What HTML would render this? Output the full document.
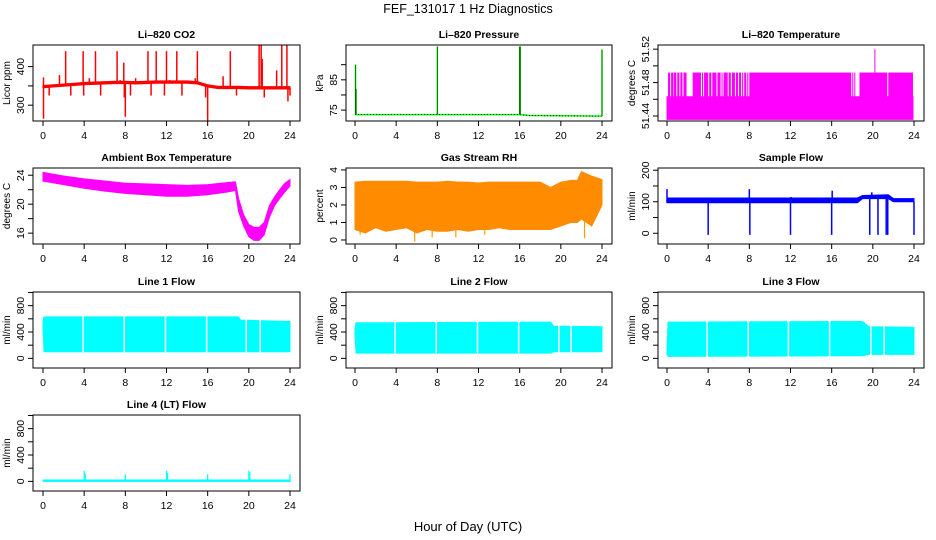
<!DOCTYPE html>
<html><head><meta charset="utf-8"><style>
html,body{margin:0;padding:0;background:#fff;}
svg{display:block;font-family:"Liberation Sans",sans-serif;}
</style></head><body>
<svg id="c" width="936" height="540" viewBox="0 0 936 540" xmlns="http://www.w3.org/2000/svg">
<text x="468" y="13" text-anchor="middle" font-size="12.5">FEF_131017  1 Hz Diagnostics</text>
<text x="468" y="531" text-anchor="middle" font-size="13">Hour of Day (UTC)</text>
</svg>
<script>
// ---- data ----
const xTicks = [0,4,8,12,16,20,24];
const co2T = [0,1,2,3,4,5,6,7,8,9,10,11,12,13,14,15,16,17,18,19,20,21,22,23,24];
const co2Base = [348,350,352,354,356,357,358,359,359,358,359,360,360,360,360,358,350,346,346,346,345,345,345,345,345];
const co2Spikes = [[0.05,265],[0.05,372],[0.6,325],[1.6,378],[2.2,440],[2.7,325],[3.9,440],[3.95,325],[4.5,370],[5.1,440],[5.6,325],[7.2,440],[7.5,365],[7.85,410],[7.9,320],[8.0,270],[8.5,325],[9.0,370],[10.2,440],[10.5,325],[11.0,440],[11.8,325],[12.0,440],[12.3,365],[13.0,440],[13.5,325],[14.8,370],[15.0,440],[15.8,320],[16.0,258],[17.5,375],[18.2,440],[18.8,325],[21.0,455],[21.2,455],[21.3,420],[21.5,320],[22.7,390],[23.2,455],[23.7,455],[23.8,310],[24,325]];
const presT = [0,16,17,24];
const presBase = [73.5,73.5,73.2,73.0];
const presSpikes = [[0.05,90],[0.1,82],[8,96],[16,96],[16.05,96],[24,95]];
const tempLoT = [0,23.9];
const tempLo = [51.436,51.463];
const tempHiTop = 51.492;
const tempHiSegs = [[0.1,0.3],[0.4,0.6],[0.65,0.9],[1.0,1.2],[1.3,1.5],[1.6,1.9],[2.5,3.3],[3.4,3.5],[3.6,4.0],[4.1,4.3],[4.4,4.8],[4.9,5.2],[5.3,5.4],[5.5,5.9],[6.0,6.2],[6.3,6.6],[6.7,6.9],[7.0,7.2],[7.3,7.4],[7.5,7.7],[7.8,7.9],[8.0,17.9],[18.0,18.1],[18.2,18.3],[18.7,21.4],[21.5,23.9]];
const tempSpikes = [[20.2,51.52]];
const ambT = [0,2,4,6,8,10,12,14,16,18,18.7,19,19.5,20,20.5,21,21.5,22,22.5,23,23.5,24];
const ambMax = [24.4,23.9,23.5,23.2,22.9,22.8,22.7,22.6,22.7,23.0,23.1,20.8,18.5,17.2,16.8,16.8,17.5,19.8,21.0,22.0,22.9,23.4];
const ambMin = [23.2,22.7,22.2,21.8,21.5,21.3,21.1,21.1,21.3,21.7,21.9,19.0,17.0,15.5,15.0,15.0,15.8,18.2,19.8,20.8,21.7,22.5];
const rhT = [0,1,2,3,4,5,6,7,8,9,10,11,12,13,14,15,16,17,18,19,20,21,21.6,22,23,24];
const rhTop = [3.3,3.35,3.35,3.35,3.35,3.35,3.3,3.3,3.3,3.35,3.3,3.3,3.25,3.3,3.3,3.3,3.3,3.3,3.3,3.0,3.3,3.4,3.4,3.9,3.65,3.45];
const rhBot = [0.6,0.4,0.7,0.5,0.6,0.7,0.4,0.6,0.5,0.5,0.6,0.5,0.6,0.6,0.7,0.6,0.6,0.6,0.6,0.6,0.8,1.0,1.0,1.2,0.8,2.0];
const rhSpikes = [[0.5,0.3],[5.8,-0.1],[7.5,0.15],[9.8,0.15],[12.6,0.3],[22.3,0.1]];
const sfT = [0,18.5,19,21.5,22,24];
const sfMax = [112,112,120,122,110,110];
const sfMin = [97,97,110,110,100,100];
const sfSpikes = [[0,140],[4,-5],[8,140],[8.05,-5],[12,-5],[12.05,115],[16,-5],[16.05,135],[19.7,-5],[19.9,130],[20.5,-5],[21.3,-5],[21.45,-5],[24,-5]];
const l1T = [0,0.1,19,19.2,24];
const l1Max = [560,630,630,580,560];
const l1Min = [450,100,100,100,100];
const l1Gaps = [3.9,7.9,11.9,15.9,19.75,21.1];
const l2T = [0,0.1,19,19.3,24];
const l2Max = [450,540,550,490,480];
const l2Min = [350,80,80,100,100];
const l2Gaps = [3.9,7.9,11.9,15.9,19.8,21.0];
const l3T = [0,0.1,19,19.6,24];
const l3Max = [150,550,560,480,470];
const l3Min = [60,30,40,60,60];
const l3Gaps = [3.9,7.9,11.8,15.8,19.8,21.1];
const l4T = [0,24];
const l4Max = [20,20];
const l4Min = [0,0];
const l4Spikes = [[4,160],[4.1,120],[8,110],[12,160],[12.1,130],[16,110],[20,160],[20.1,140],[24,110]];

// ---- layout ----
const cols = [{l:33,r:300,x0:43,x24:290},{l:346,r:612,x0:355,x24:602},{l:658,r:924,x0:667,x24:914}];
const rows = [45,168,292,415];
const H = 76;
const svg = document.getElementById('c');
const NS = 'http://www.w3.org/2000/svg';
let clipN = 0;
function mk(tag, attrs, parent){ const e=document.createElementNS(NS,tag); for(const k in attrs) e.setAttribute(k,attrs[k]); (parent||svg).appendChild(e); return e; }
function interp(ts, vs, t){ if(t<=ts[0]) return vs[0]; for(let i=1;i<ts.length;i++){ if(t<=ts[i]){ const f=(t-ts[i-1])/(ts[i]-ts[i-1]); return vs[i-1]+f*(vs[i]-vs[i-1]); } } return vs[vs.length-1]; }

function panel(p){
  const c = cols[p.col], top = rows[p.row], bot = top+H;
  const g = mk('g',{});
  
  
  const xs = t => c.x0 + (t/24)*(c.x24-c.x0);
  const ys = v => bot - (v-p.ylim[0])/(p.ylim[1]-p.ylim[0])*H;
  const id='cl'+(clipN++);
  const cp = mk('clipPath',{id:id},g); mk('rect',{x:c.l,y:top,width:c.r-c.l,height:H},cp);
  const dg = mk('g',{'clip-path':'url(#'+id+')'},g);
  
  
  p.draw(dg, xs, ys);
  const box = mk('rect',{x:c.l,y:top,width:c.r-c.l,height:H,fill:'none',stroke:'#000','stroke-width':1},g);
  
  
  xTicks.forEach(t=>{
    const x=xs(t);
    mk('line',{x1:x,y1:bot,x2:x,y2:bot+5,stroke:'#000'},g);
    const tx = mk('text',{x:x,y:bot+18,'text-anchor':'middle','font-size':10.5},g);
    tx.textContent=t;
    
    
  });
  p.ticks.forEach(v=>{
    const y=ys(v);
    mk('line',{x1:c.l-5,y1:y,x2:c.l,y2:y,stroke:'#000'},g);
  });
  p.labels.forEach(v=>{
    const y=ys(v);
    const tx = mk('text',{x:0,y:0,'text-anchor':'middle','font-size':10.5,transform:'translate('+(c.l-9)+','+y+') rotate(-90)'},g);
    tx.textContent = p.fmt ? p.fmt(v) : v;
    
    
  });
  const yl = mk('text',{x:0,y:0,'text-anchor':'middle','font-size':10,transform:'translate('+(c.l-23)+','+(top+H/2)+') rotate(-90)'},g);
  yl.textContent=p.ylab;
  
  
  const ti = mk('text',{x:(c.l+c.r)/2,y:top-7,'text-anchor':'middle','font-size':10.5,'font-weight':'bold'},g);
  ti.textContent=p.title;
  
  
}
function band(g, xs, ys, T, mn, mx, fill, name){
  let d='M'+T.map((t,i)=>xs(t)+','+ys(mx[i])).join(' L');
  for(let i=T.length-1;i>=0;i--) d+=' L'+xs(T[i])+','+ys(mn[i]);
  const e = mk('path',{d:d+' Z',fill:fill,stroke:fill,'stroke-width':1},g);
  
  
}
function spikes(g, xs, ys, sp, T, base, color, w){
  sp.forEach(s=>{
    const x=xs(s[0]);
    const e = mk('line',{x1:x,y1:ys(interp(T,base,s[0])),x2:x,y2:ys(s[1]),stroke:color,'stroke-width':w||1.5},g);
    
    
  });
}
function gaps(g, xs, ys, gl, lo, hi){
  gl.forEach(t=>{
    const x=xs(t);
    const e = mk('line',{x1:x,y1:ys(hi),x2:x,y2:ys(lo),stroke:'#fff','stroke-width':1.5},g);
    
    
  });
}

panel({name:'co2-panel',col:0,row:0,title:'Li–820 CO2',ylab:'Licor ppm',ylim:[259,456],ticks:[300,350,400],labels:[300,400],
  draw:(g,xs,ys)=>{
    const lo=co2Base.map(v=>v-3), hi=co2Base.map(v=>v+3);
    band(g,xs,ys,co2T,lo,hi,'#ff0000','co2-series');
    spikes(g,xs,ys,co2Spikes,co2T,co2Base,'#ff0000',1.5);
  }});
panel({name:'pressure-panel',col:1,row:0,title:'Li–820 Pressure',ylab:'kPa',ylim:[71.4,96.5],ticks:[75,80,85,90],labels:[75,85],
  draw:(g,xs,ys)=>{
    const e = mk('path',{d:'M'+presT.map((t,i)=>xs(t)+','+ys(presBase[i])).join(' L'),fill:'none',stroke:'#00ff00','stroke-width':1.5},g);
    
    
    const e2 = mk('path',{d:'M'+presT.map((t,i)=>xs(t)+','+ys(presBase[i])).join(' L'),fill:'none',stroke:'#000','stroke-width':0.8,'stroke-dasharray':'1,2'},g);
    
    
    spikes(g,xs,ys,presSpikes,presT,presBase,'#00ff00',1.5);
    spikes(g,xs,ys,presSpikes,presT,presBase,'#000',0.5);
  }});
panel({name:'licor-temperature-panel',col:2,row:0,title:'Li–820 Temperature',ylab:'degrees C',ylim:[51.434,51.525],ticks:[51.44,51.46,51.48,51.50,51.52],labels:[51.44,51.48,51.52],fmt:v=>v.toFixed(2),
  draw:(g,xs,ys)=>{
    band(g,xs,ys,tempLoT,[tempLo[0],tempLo[0]],[tempLo[1],tempLo[1]],'#ff00ff','temperature-low-band');
    tempHiSegs.forEach(s=>{
      const r = mk('rect',{x:xs(s[0]),y:ys(tempHiTop),width:Math.max(1,xs(s[1])-xs(s[0])),height:ys(tempLo[0])-ys(tempHiTop),fill:'#ff00ff'},g);
      
      
    });
    spikes(g,xs,ys,tempSpikes,tempLoT,[tempHiTop,tempHiTop],'#ff00ff',1);
  }});
panel({name:'ambient-temperature-panel',col:0,row:1,title:'Ambient Box Temperature',ylab:'degrees C',ylim:[14.5,25],ticks:[16,18,20,22,24],labels:[16,20,24],
  draw:(g,xs,ys)=>{ band(g,xs,ys,ambT,ambMin,ambMax,'#ff00ff','ambient-series'); }});
panel({name:'rh-panel',col:1,row:1,title:'Gas Stream RH',ylab:'percent',ylim:[-0.23,4.11],ticks:[0,1,2,3,4],labels:[0,1,2,3,4],
  draw:(g,xs,ys)=>{ band(g,xs,ys,rhT,rhBot,rhTop,'#ff8c00','rh-series'); spikes(g,xs,ys,rhSpikes,rhT,rhBot,'#ff9a00',1.2); }});
panel({name:'sample-flow-panel',col:2,row:1,title:'Sample Flow',ylab:'ml/min',ylim:[-34,207],ticks:[0,50,100,150,200],labels:[0,100,200],
  draw:(g,xs,ys)=>{ band(g,xs,ys,sfT,sfMin,sfMax,'#0000ff','sample-flow-series'); spikes(g,xs,ys,sfSpikes,sfT,sfMin,'#0000ff',1.5); }});
const flowTicks=[0,200,400,600,800,1000], flowLabels=[0,400,800], flowLim=[-146,1007];
panel({name:'line1-flow-panel',col:0,row:2,title:'Line 1 Flow',ylab:'ml/min',ylim:flowLim,ticks:flowTicks,labels:flowLabels,
  draw:(g,xs,ys)=>{ band(g,xs,ys,l1T,l1Min,l1Max,'#00ffff','line1-series'); gaps(g,xs,ys,l1Gaps,50,700); }});
panel({name:'line2-flow-panel',col:1,row:2,title:'Line 2 Flow',ylab:'ml/min',ylim:flowLim,ticks:flowTicks,labels:flowLabels,
  draw:(g,xs,ys)=>{ band(g,xs,ys,l2T,l2Min,l2Max,'#00ffff','line2-series'); gaps(g,xs,ys,l2Gaps,50,700); }});
panel({name:'line3-flow-panel',col:2,row:2,title:'Line 3 Flow',ylab:'ml/min',ylim:flowLim,ticks:flowTicks,labels:flowLabels,
  draw:(g,xs,ys)=>{ band(g,xs,ys,l3T,l3Min,l3Max,'#00ffff','line3-series'); gaps(g,xs,ys,l3Gaps,0,700); }});
panel({name:'line4-flow-panel',col:0,row:3,title:'Line 4 (LT) Flow',ylab:'ml/min',ylim:flowLim,ticks:flowTicks,labels:flowLabels,
  draw:(g,xs,ys)=>{ band(g,xs,ys,l4T,l4Min,l4Max,'#00ffff','line4-series'); spikes(g,xs,ys,l4Spikes,l4T,l4Min,'#00ffff',1.2); }});
</script>
</body></html>
